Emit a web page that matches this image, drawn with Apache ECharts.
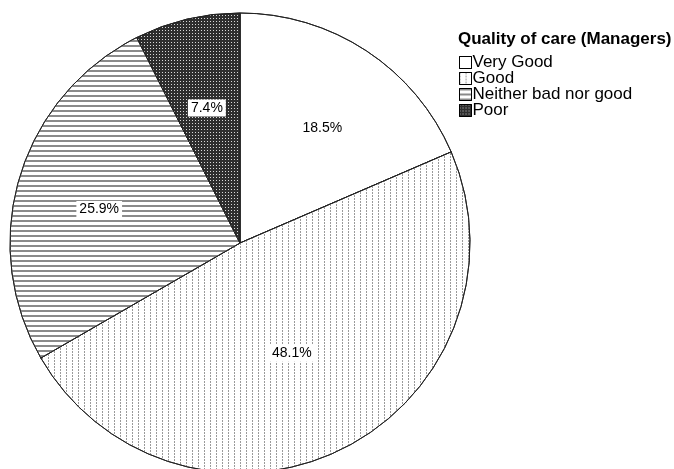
<!DOCTYPE html>
<html><head><meta charset="utf-8">
<script src="https://cdn.jsdelivr.net/npm/echarts@6/dist/echarts.min.js"></script>
<style>html,body{margin:0;padding:0;background:#fff}#c{width:674px;height:469px}</style>
</head><body><div id="c"></div>
<script>
const categories = ['Very Good', 'Good', 'Neither bad nor good', 'Poor'];
const percents = [18.5, 48.1, 25.9, 7.4];
const legendTitle = 'Quality of care (Managers)';

const fills = ['#ffffff', '#ffffff', '#ffffff', '#2e2e2e'];
const decals = [
  {symbol: 'none'},
  {symbol: 'rect', symbolSize: 1, color: '#9a9a9a', dashArrayX: [[1, 5]], dashArrayY: [2, 1], rotation: 0},
  {symbol: 'rect', symbolSize: 1, color: '#8a8a8a', dashArrayX: [1, 0], dashArrayY: [1.6, 2.4], rotation: 0},
  {symbol: 'rect', symbolSize: 1, color: '#d8d8d8', dashArrayX: [[1, 2]], dashArrayY: [1, 2], rotation: 0}
];

const chart = echarts.init(document.getElementById('c'), null, {renderer: 'canvas'});
const data = categories.map((n, i) => ({
  name: n, value: percents[i],
  itemStyle: {color: fills[i], decal: decals[i]}
}));
const labelStyle = {
  position: 'inside', formatter: p => p.value.toFixed(1) + '%',
  fontFamily: 'Liberation Sans, Arial', fontSize: 14, color: '#000',
  backgroundColor: '#fff', padding: [2, 3, 1, 3]
};
// Good's label sits closer to the centre than the others
const labelData = (showGood) => categories.map((n, i) => ({
  name: n + (showGood ? '  ' : ' '), value: percents[i],
  label: {show: (i === 1) === showGood}
}));
chart.setOption({
  animation: false,
  aria: {enabled: true, decal: {show: true}},
  title: {text: legendTitle, left: 453, top: 26,
    textStyle: {fontFamily: 'Liberation Sans, Arial', fontSize: 17, fontWeight: 'bold', color: '#000'}},
  legend: {
    orient: 'vertical', left: 454, top: 49, itemWidth: 12, itemHeight: 12, itemGap: -1,
    icon: 'rect', selectedMode: false,
    itemStyle: {borderColor: '#000', borderWidth: 1},
    textStyle: {fontFamily: 'Liberation Sans, Arial', fontSize: 17, lineHeight: 16, color: '#000', padding: [0, 0, 0, -4]},
    data: categories
  },
  series: [{
    type: 'pie', center: [240, 243], radius: [0, 230], startAngle: 90, clockwise: true,
    itemStyle: {borderColor: '#222', borderWidth: 1},
    label: {show: false}, labelLine: {show: false}, emphasis: {disabled: true},
    data: data
  }, {
    type: 'pie', center: [241, 252], radius: [0, 290], startAngle: 90, clockwise: true,
    silent: true, legendHoverLink: false,
    itemStyle: {color: 'transparent', borderWidth: 0, decal: {symbol: 'none'}},
    label: labelStyle, labelLine: {show: false}, emphasis: {disabled: true},
    data: labelData(false)
  }, {
    type: 'pie', center: [240, 250], radius: [0, 225], startAngle: 90, clockwise: true,
    silent: true, legendHoverLink: false,
    itemStyle: {color: 'transparent', borderWidth: 0, decal: {symbol: 'none'}},
    label: labelStyle, labelLine: {show: false}, emphasis: {disabled: true},
    data: labelData(true)
  }]
});
</script></body></html>
